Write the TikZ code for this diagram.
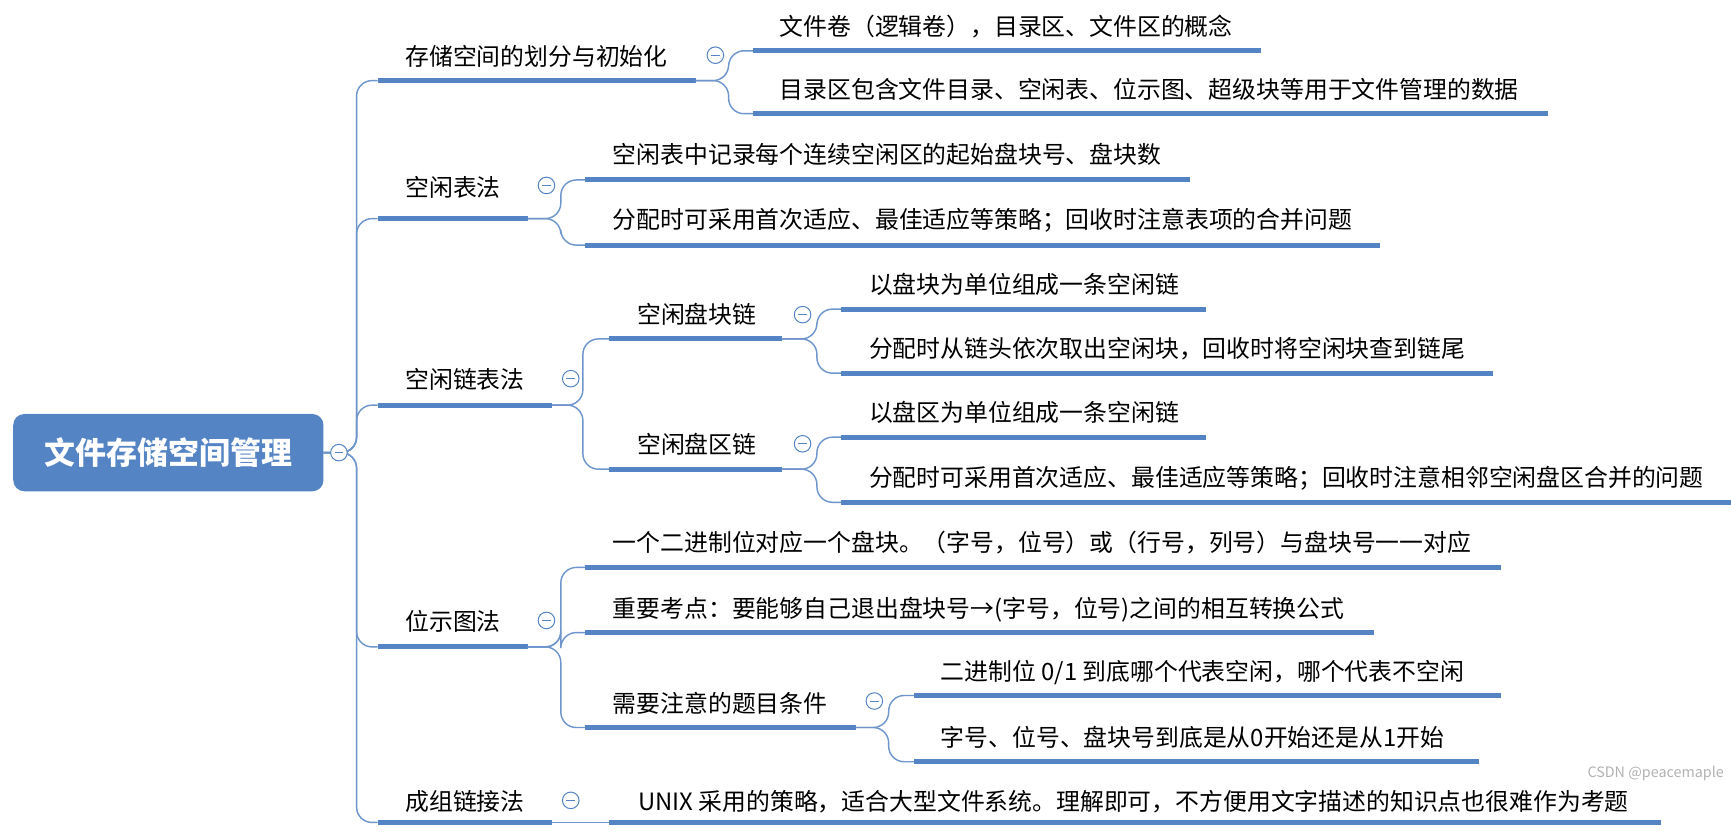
\documentclass[tikz,border=0pt]{standalone}
\usepackage{fontspec}
\setmainfont{Noto Sans CJK SC}
\definecolor{mb}{RGB}{84,132,196}
\definecolor{ln}{RGB}{110,150,205}
\begin{document}
\begin{tikzpicture}[x=1pt,y=-1pt,
 ul/.style={draw=mb,line width=4.5pt},
 con/.style={draw=ln,line width=1.3pt,rounded corners=14pt},
 tx/.style={anchor=base west,font=\fontsize{21.6}{21.6}\selectfont,inner sep=0pt},
 col/.style={circle,draw=mb,fill=white,line width=0.9pt,minimum size=15pt,inner sep=0pt}]
\useasboundingbox[fill=white] (0,0) rectangle (1568,753);
\newcommand\mmi[7]{% name x1 x2 y tx text
 \coordinate (#1s) at (#2,#4); \coordinate (#1e) at (#3,#4);
 \draw[ul] (#1s) -- (#1e);
 \node[tx] (#1t) at (#5,#4-#6) {#7};}
% root
\node[fill=mb,rounded corners=10pt,minimum width=281pt,minimum height=70pt,text=white,font=\fontsize{28}{28}\selectfont\bfseries] (root) at (152.5,410) {文件存储空间管理};
\coordinate (rootE) at (293,410);
% level 1
\mmi{a}{342}{630}{73}{367}{14}{存储空间的划分与初始化}
\mmi{b}{342}{478}{198}{367}{20}{空闲表法}
\mmi{c}{342}{500}{367}{367}{15}{空闲链表法}
\mmi{d}{342}{478}{586}{367}{15}{位示图法}
\mmi{e}{342}{500}{745}{367}{11}{成组链接法}
\foreach \n in {a,b,c,d,e}{\draw[con] (rootE) -- (323,410) |- (\n s);}
% a children
\mmi{a1}{682}{1142}{46}{706}{14}{文件卷（逻辑卷），目录区、文件区的概念}
\mmi{a2}{682}{1402}{103}{706}{14}{目录区包含文件目录、空闲表、位示图、超级块等用于文件管理的数据}
\foreach \n in {a1,a2}{\draw[con] (ae) -- (660,73) |- (\n s);}
% b children
\mmi{b1}{530}{1078}{163}{555}{15}{空闲表中记录每个连续空闲区的起始盘块号、盘块数}
\mmi{b2}{530}{1250}{222}{555}{15}{分配时可采用首次适应、最佳适应等策略；回收时注意表项的合并问题}
\foreach \n in {b1,b2}{\draw[con] (be) -- (508,198) |- (\n s);}
% c children
\mmi{c1}{552}{708}{307}{577}{14}{空闲盘块链}
\mmi{c2}{552}{708}{425}{577}{14}{空闲盘区链}
\foreach \n in {c1,c2}{\draw[con] (ce) -- (528,367) |- (\n s);}
\mmi{c11}{762}{1092}{280}{787}{14}{以盘块为单位组成一条空闲链}
\mmi{c12}{762}{1352}{338}{787}{14}{分配时从链头依次取出空闲块，回收时将空闲块查到链尾}
\foreach \n in {c11,c12}{\draw[con] (c1e) -- (740,307) |- (\n s);}
\mmi{c21}{762}{1092}{396}{787}{14}{以盘区为单位组成一条空闲链}
\mmi{c22}{762}{1568}{455}{787}{14}{分配时可采用首次适应、最佳适应等策略；回收时注意相邻空闲盘区合并的问题}
\foreach \n in {c21,c22}{\draw[con] (c2e) -- (740,425) |- (\n s);}
% d children
\mmi{d1}{530}{1360}{514}{555}{14}{一个二进制位对应一个盘块。（字号，位号）或（行号，列号）与盘块号一一对应}
\mmi{d2}{530}{1245}{573}{555}{14}{重要考点：要能够自己退出盘块号→(字号，位号)之间的相互转换公式}
\mmi{d3}{530}{775}{659}{555}{14}{需要注意的题目条件}
\foreach \n in {d1,d2,d3}{\draw[con] (de) -- (508,586) |- (\n s);}
\mmi{d31}{828}{1360}{630}{852}{14}{二进制位 0/1 到底哪个代表空闲，哪个代表不空闲}
\mmi{d32}{828}{1340}{690}{852}{14}{字号、位号、盘块号到底是从0开始还是从1开始}
\foreach \n in {d31,d32}{\draw[con] (d3e) -- (805,659) |- (\n s);}
% e child
\mmi{e1}{552}{1505}{745}{578}{11}{UNIX 采用的策略，适合大型文件系统。理解即可，不方便用文字描述的知识点也很难作为考题}
\draw[con] (ee) -- (e1s);
% collapse circles
\node[col] (k0) at (307,410) {}; \draw[mb,line width=0.9pt] (303,410) -- (311,410);
\node[col] (k1) at (648,50) {}; \draw[mb,line width=0.9pt] (644,50) -- (652,50);
\node[col] (k2) at (495,168) {}; \draw[mb,line width=0.9pt] (491,168) -- (499,168);
\node[col] (k3) at (517,343) {}; \draw[mb,line width=0.9pt] (513,343) -- (521,343);
\node[col] (k4) at (727,285) {}; \draw[mb,line width=0.9pt] (723,285) -- (731,285);
\node[col] (k5) at (727,402) {}; \draw[mb,line width=0.9pt] (723,402) -- (731,402);
\node[col] (k6) at (495,562) {}; \draw[mb,line width=0.9pt] (491,562) -- (499,562);
\node[col] (k7) at (792,635) {}; \draw[mb,line width=0.9pt] (788,635) -- (796,635);
\node[col] (k8) at (517,725) {}; \draw[mb,line width=0.9pt] (513,725) -- (521,725);
\node[anchor=base east,font=\fontsize{13}{13}\selectfont,text=black!30] (wm) at (1565,704) {CSDN @peacemaple};
\end{tikzpicture}
\end{document}
